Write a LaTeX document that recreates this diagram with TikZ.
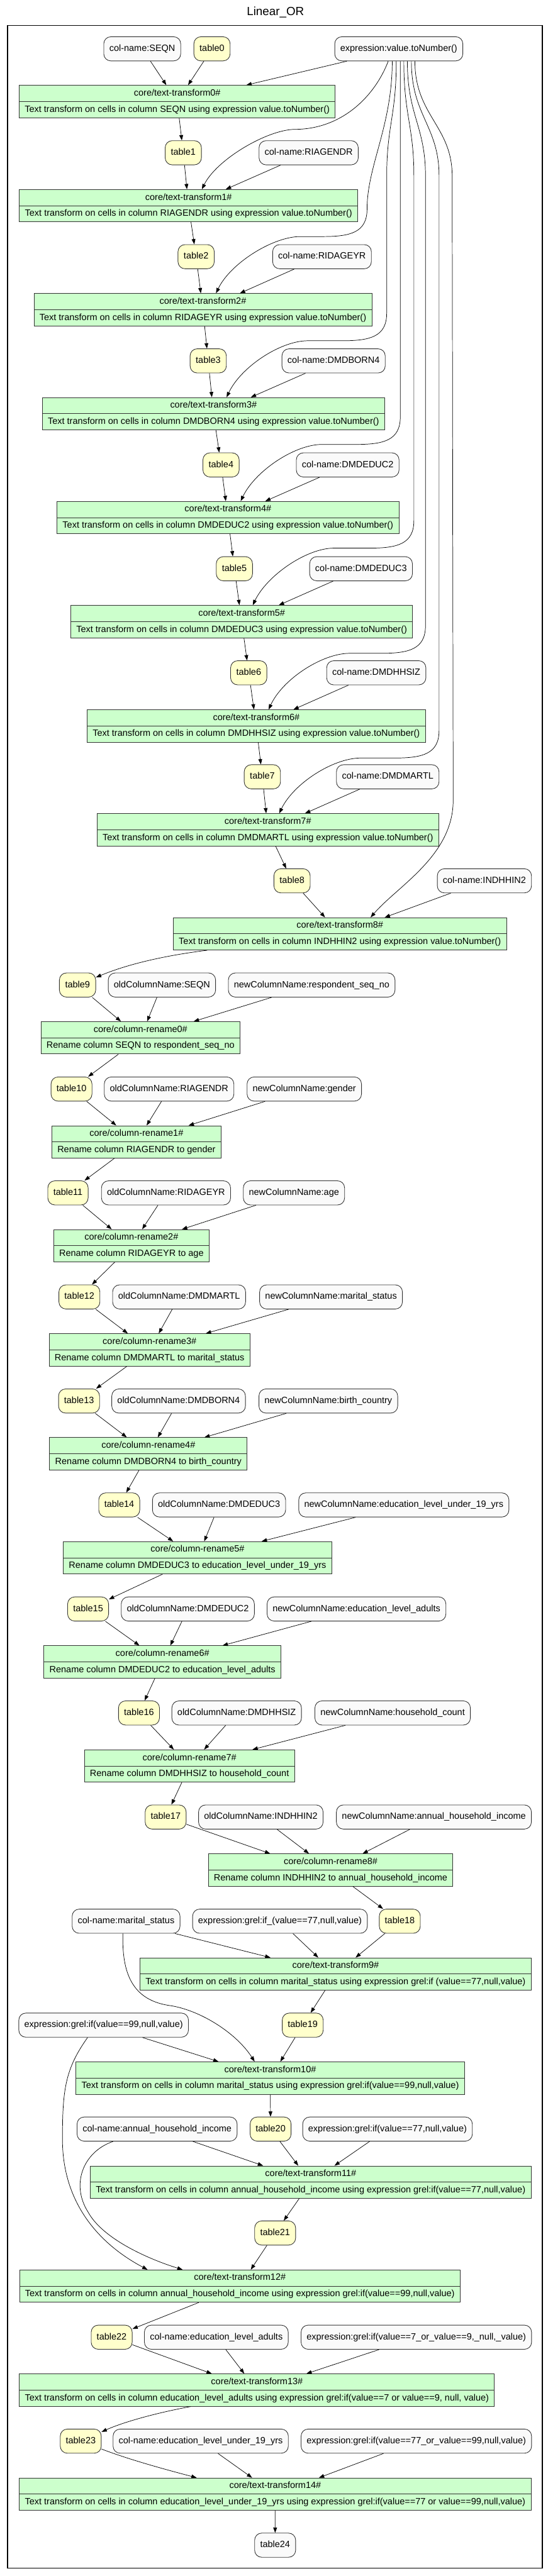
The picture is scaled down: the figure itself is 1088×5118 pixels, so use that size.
\documentclass[tikz,border=0pt]{standalone}
\usepackage{fontspec}
\setmainfont{Liberation Sans}
\usetikzlibrary{arrows.meta,shapes.multipart}
\definecolor{tblyellow}{HTML}{FFFFCC}
\definecolor{prmgrey}{HTML}{FAFAFA}
\definecolor{opgreen}{HTML}{CCFFCC}
\definecolor{bordergrey}{HTML}{333333}
\newcommand{\pstrut}{\rule[-4pt]{0pt}{17.5pt}}
\begin{document}
\begin{tikzpicture}[x=1pt,y=-1pt,
  base/.style={font=\fontsize{18.1}{21}\selectfont},
  prm/.style={base, draw=bordergrey, line width=1.1pt, fill=prmgrey, rounded corners=14pt, minimum height=48pt, inner xsep=11pt, inner ysep=0pt},
  tbl/.style={prm, fill=tblyellow, minimum width=72pt},
  op/.style={base, draw=bordergrey, line width=1.1pt, fill=opgreen, rectangle split, rectangle split parts=2, inner xsep=11pt, inner ysep=6.75pt, anchor=north},
  edge/.style={line width=0.9pt, -{Triangle[length=10.5pt,width=7.5pt]}},
]
\useasboundingbox (0,0) rectangle (1088,5118);
\fill[white] (0,0) rectangle (1088,5118);
\node[font=\fontsize{23.5}{28}\selectfont] (title) at (547,25) {Linear\_OR};
\draw[line width=1.5pt] (15,51) rectangle (1077,5102);

% ---------- text transforms 0-8
\node[prm] (seqn) at (282.5,97) {\pstrut col-name:SEQN};
\node[tbl] (t0) at (421,97) {\pstrut table0};
\node[prm] (expr) at (792,97) {\pstrut expression:value.toNumber()};
\node[op] (tt0) at (352,169) {\pstrut core/text-transform0\#\nodepart{two}\pstrut Text transform on cells in column SEQN using expression value.toNumber()};

\node[tbl] (t1) at (364,303.5) {\pstrut table1};
\node[prm] (c1) at (613,303.5) {\pstrut col-name:RIAGENDR};
\node[op] (tt1) at (374.5,376) {\pstrut core/text-transform1\#\nodepart{two}\pstrut Text transform on cells in column RIAGENDR using expression value.toNumber()};

\node[tbl] (t2) at (389.5,510) {\pstrut table2};
\node[prm] (c2) at (639.5,510) {\pstrut col-name:RIDAGEYR};
\node[op] (tt2) at (403,582.7) {\pstrut core/text-transform2\#\nodepart{two}\pstrut Text transform on cells in column RIDAGEYR using expression value.toNumber()};

\node[tbl] (t3) at (413.5,717) {\pstrut table3};
\node[prm] (c3) at (662.5,717) {\pstrut col-name:DMDBORN4};
\node[op] (tt3) at (424,789.3) {\pstrut core/text-transform3\#\nodepart{two}\pstrut Text transform on cells in column DMDBORN4 using expression value.toNumber()};

\node[tbl] (t4) at (439,923.7) {\pstrut table4};
\node[prm] (c4) at (690.5,923.7) {\pstrut col-name:DMDEDUC2};
\node[op] (tt4) at (452.7,995.7) {\pstrut core/text-transform4\#\nodepart{two}\pstrut Text transform on cells in column DMDEDUC2 using expression value.toNumber()};

\node[tbl] (t5) at (465.5,1130) {\pstrut table5};
\node[prm] (c5) at (717,1130) {\pstrut col-name:DMDEDUC3};
\node[op] (tt5) at (480,1202.3) {\pstrut core/text-transform5\#\nodepart{two}\pstrut Text transform on cells in column DMDEDUC3 using expression value.toNumber()};

\node[tbl] (t6) at (494,1336.7) {\pstrut table6};
\node[prm] (c6) at (747.3,1336.7) {\pstrut col-name:DMDHHSIZ};
\node[op] (tt6) at (509,1409.7) {\pstrut core/text-transform6\#\nodepart{two}\pstrut Text transform on cells in column DMDHHSIZ using expression value.toNumber()};

\node[tbl] (t7) at (521,1543.3) {\pstrut table7};
\node[prm] (c7) at (770,1543.3) {\pstrut col-name:DMDMARTL};
\node[op] (tt7) at (532,1616) {\pstrut core/text-transform7\#\nodepart{two}\pstrut Text transform on cells in column DMDMARTL using expression value.toNumber()};

\node[tbl] (t8) at (580,1750) {\pstrut table8};
\node[prm] (c8) at (962,1750) {\pstrut col-name:INDHHIN2};
\node[op] (tt8) at (675,1822.7) {\pstrut core/text-transform8\#\nodepart{two}\pstrut Text transform on cells in column INDHHIN2 using expression value.toNumber()};

% ---------- renames
\node[tbl] (t9) at (154,1957) {\pstrut table9};
\node[prm] (o0) at (321.6,1957) {\pstrut oldColumnName:SEQN};
\node[prm] (n0) at (619,1957) {\pstrut newColumnName:respondent\_seq\_no};
\node[op] (cr0) at (279,2029.3) {\pstrut core/column-rename0\#\nodepart{two}\pstrut Rename column SEQN to respondent\_seq\_no};

\node[tbl] (t10) at (142,2163.7) {\pstrut table10};
\node[prm] (o1) at (335.8,2163.7) {\pstrut oldColumnName:RIAGENDR};
\node[prm] (n1) at (604.3,2163.7) {\pstrut newColumnName:gender};
\node[op] (cr1) at (271,2236) {\pstrut core/column-rename1\#\nodepart{two}\pstrut Rename column RIAGENDR to gender};

\node[tbl] (t11) at (135,2370) {\pstrut table11};
\node[prm] (o2) at (329.7,2370) {\pstrut oldColumnName:RIDAGEYR};
\node[prm] (n2) at (583.8,2370) {\pstrut newColumnName:age};
\node[op] (cr2) at (261,2442.3) {\pstrut core/column-rename2\#\nodepart{two}\pstrut Rename column RIDAGEYR to age};

\node[tbl] (t12) at (157.7,2576.7) {\pstrut table12};
\node[prm] (o3) at (355.7,2576.7) {\pstrut oldColumnName:DMDMARTL};
\node[prm] (n3) at (657.4,2576.7) {\pstrut newColumnName:marital\_status};
\node[op] (cr3) at (297,2649.3) {\pstrut core/column-rename3\#\nodepart{two}\pstrut Rename column DMDMARTL to marital\_status};

\node[tbl] (t13) at (157,2783.5) {\pstrut table13};
\node[prm] (o4) at (354.7,2783.5) {\pstrut oldColumnName:DMDBORN4};
\node[prm] (n4) at (652,2783.5) {\pstrut newColumnName:birth\_country};
\node[op] (cr4) at (294.7,2855.7) {\pstrut core/column-rename4\#\nodepart{two}\pstrut Rename column DMDBORN4 to birth\_country};

\node[tbl] (t14) at (236.8,2990) {\pstrut table14};
\node[prm] (o5) at (435,2990) {\pstrut oldColumnName:DMDEDUC3};
\node[prm] (n5) at (802,2990) {\pstrut newColumnName:education\_level\_under\_19\_yrs};
\node[op] (cr5) at (392.3,3062.3) {\pstrut core/column-rename5\#\nodepart{two}\pstrut Rename column DMDEDUC3 to education\_level\_under\_19\_yrs};

\node[tbl] (t15) at (175,3196.7) {\pstrut table15};
\node[prm] (o6) at (373,3196.7) {\pstrut oldColumnName:DMDEDUC2};
\node[prm] (n6) at (708,3196.7) {\pstrut newColumnName:education\_level\_adults};
\node[op] (cr6) at (322.6,3269.3) {\pstrut core/column-rename6\#\nodepart{two}\pstrut Rename column DMDEDUC2 to education\_level\_adults};

\node[tbl] (t16) at (276,3403.3) {\pstrut table16};
\node[prm] (o7) at (470,3403.3) {\pstrut oldColumnName:DMDHHSIZ};
\node[prm] (n7) at (779.8,3403.3) {\pstrut newColumnName:household\_count};
\node[op] (cr7) at (376.3,3476) {\pstrut core/column-rename7\#\nodepart{two}\pstrut Rename column DMDHHSIZ to household\_count};

\node[tbl] (t17) at (329,3610) {\pstrut table17};
\node[prm] (o8) at (518,3610) {\pstrut oldColumnName:INDHHIN2};
\node[prm] (n8) at (861.7,3610) {\pstrut newColumnName:annual\_household\_income};
\node[op] (cr8) at (656.6,3682.7) {\pstrut core/column-rename8\#\nodepart{two}\pstrut Rename column INDHHIN2 to annual\_household\_income};

% ---------- grel transforms
\node[prm] (cms) at (250.4,3817) {\pstrut col-name:marital\_status};
\node[prm] (e77) at (556,3817) {\pstrut expression:grel:if\_(value==77,null,value)};
\node[tbl] (t18) at (794,3817) {\pstrut table18};
\node[op] (tt9) at (666.5,3889.3) {\pstrut core/text-transform9\#\nodepart{two}\pstrut Text transform on cells in column marital\_status using expression grel:if (value==77,null,value)};

\node[prm] (e99) at (205.8,4023.5) {\pstrut expression:grel:if(value==99,null,value)};
\node[tbl] (t19) at (601.2,4023.5) {\pstrut table19};
\node[op] (tt10) at (536.7,4096) {\pstrut core/text-transform10\#\nodepart{two}\pstrut Text transform on cells in column marital\_status using expression grel:if(value==99,null,value)};

\node[prm] (cahi) at (312,4230) {\pstrut col-name:annual\_household\_income};
\node[tbl] (t20) at (537.4,4230) {\pstrut table20};
\node[prm] (e77b) at (769.6,4230) {\pstrut expression:grel:if(value==77,null,value)};
\node[op] (tt11) at (617,4302.7) {\pstrut core/text-transform11\#\nodepart{two}\pstrut Text transform on cells in column annual\_household\_income using expression grel:if(value==77,null,value)};

\node[tbl] (t21) at (546.4,4436.5) {\pstrut table21};
\node[op] (tt12) at (476.4,4509.3) {\pstrut core/text-transform12\#\nodepart{two}\pstrut Text transform on cells in column annual\_household\_income using expression grel:if(value==99,null,value)};

\node[tbl] (t22) at (221.8,4643.5) {\pstrut table22};
\node[prm] (cela) at (429.6,4643.5) {\pstrut col-name:education\_level\_adults};
\node[prm] (e79) at (826.8,4643.5) {\pstrut expression:grel:if(value==7\_or\_value==9,\_null,\_value)};
\node[op] (tt13) at (510.2,4716) {\pstrut core/text-transform13\#\nodepart{two}\pstrut Text transform on cells in column education\_level\_adults using expression grel:if(value==7 or value==9, null, value)};

\node[tbl] (t23) at (160.4,4850) {\pstrut table23};
\node[prm] (celu) at (398.6,4850) {\pstrut col-name:education\_level\_under\_19\_yrs};
\node[prm] (e7799) at (826.8,4850) {\pstrut expression:grel:if(value==77\_or\_value==99,null,value)};
\node[op] (tt14) at (546.5,4922.7) {\pstrut core/text-transform14\#\nodepart{two}\pstrut Text transform on cells in column education\_level\_under\_19\_yrs using expression grel:if(value==77 or value==99,null,value)};

\node[prm] (t24) at (546.4,5056.7) {\pstrut table24};

% ---------- edges: first block
\draw[edge] (seqn) -- (tt0);
\draw[edge] (t0) -- (tt0);
\draw[edge] (expr) -- (tt0);
\draw[edge] (tt0) -- (t1);
\draw[edge] (t1) -- (tt1);
\draw[edge] (c1) -- (tt1);
\draw[edge] (tt1) -- (t2);
\draw[edge] (t2) -- (tt2);
\draw[edge] (c2) -- (tt2);
\draw[edge] (tt2) -- (t3);
\draw[edge] (t3) -- (tt3);
\draw[edge] (c3) -- (tt3);
\draw[edge] (tt3) -- (t4);
\draw[edge] (t4) -- (tt4);
\draw[edge] (c4) -- (tt4);
\draw[edge] (tt4) -- (t5);
\draw[edge] (t5) -- (tt5);
\draw[edge] (c5) -- (tt5);
\draw[edge] (tt5) -- (t6);
\draw[edge] (t6) -- (tt6);
\draw[edge] (c6) -- (tt6);
\draw[edge] (tt6) -- (t7);
\draw[edge] (t7) -- (tt7);
\draw[edge] (c7) -- (tt7);
\draw[edge] (tt7) -- (t8);
\draw[edge] (t8) -- (tt8);
\draw[edge] (c8) -- (tt8);

% expression fan-out
\draw[edge] ([xshift=-21pt]expr.south) .. controls (745,190) and (680,257) .. (585,257)
  .. controls (530,258) and (430,317) .. ([xshift=26.5pt]tt1.north);
\draw[edge] ([xshift=-13pt]expr.south) .. controls (779,250) and (729,330) .. (729,415)
  .. controls (729,462) and (696,470) .. (641,470) -- (595,470)
  .. controls (540,471) and (457,524) .. ([xshift=26pt]tt2.north);
\draw[edge] ([xshift=-5pt]expr.south) .. controls (787,230) and (768,250) .. (768,350) -- (768,622)
  .. controls (768,669) and (735,677) .. (680,677) -- (610,677)
  .. controls (555,678) and (478,730) .. ([xshift=26pt]tt3.north);
\draw[edge] ([xshift=3pt]expr.south) -- (795,828)
  .. controls (795,875) and (762,883) .. (707,883) -- (638,883)
  .. controls (583,884) and (506,937) .. ([xshift=25.3pt]tt4.north);
\draw[edge] ([xshift=10pt]expr.south) .. controls (802,230) and (822,250) .. (822,350) -- (822,1034)
  .. controls (822,1081) and (789,1089) .. (734,1089) -- (662,1089)
  .. controls (607,1090) and (530,1144) .. ([xshift=22pt]tt5.north);
\draw[edge] ([xshift=17pt]expr.south) .. controls (809,230) and (845,250) .. (845,350) -- (845,1243)
  .. controls (845,1290) and (812,1298) .. (757,1298) -- (693,1298)
  .. controls (638,1299) and (561,1350) .. ([xshift=24.5pt]tt6.north);
\draw[edge] ([xshift=25pt]expr.south) .. controls (817,230) and (872,250) .. (872,350) -- (872,1451)
  .. controls (872,1498) and (839,1506) .. (784,1506) -- (715,1506)
  .. controls (660,1507) and (583,1557) .. ([xshift=22.5pt]tt7.north);
\draw[edge] ([xshift=32pt]expr.south) .. controls (824,230) and (898,250) .. (898,350) -- (900,1590)
  .. controls (900,1700) and (790,1760) .. ([xshift=61pt]tt8.north);

% ---------- edges: renames
\draw[edge] ([xshift=-263.5pt]tt8.south) .. controls (330,1898) and (255,1915) .. (t9);
\draw[edge] (t9) -- (cr0);
\draw[edge] (o0) -- (cr0);
\draw[edge] (n0) -- (cr0);
\draw[edge] (cr0) -- (t10);
\draw[edge] (t10) -- (cr1);
\draw[edge] (o1) -- (cr1);
\draw[edge] (n1) -- (cr1);
\draw[edge] (cr1) -- (t11);
\draw[edge] (t11) -- (cr2);
\draw[edge] (o2) -- (cr2);
\draw[edge] (n2) -- (cr2);
\draw[edge] (cr2) -- (t12);
\draw[edge] (t12) -- (cr3);
\draw[edge] (o3) -- (cr3);
\draw[edge] (n3) -- (cr3);
\draw[edge] (cr3) -- (t13);
\draw[edge] (t13) -- (cr4);
\draw[edge] (o4) -- (cr4);
\draw[edge] (n4) -- (cr4);
\draw[edge] (cr4) -- (t14);
\draw[edge] (t14) -- (cr5);
\draw[edge] (o5) -- (cr5);
\draw[edge] (n5) -- (cr5);
\draw[edge] (cr5) -- (t15);
\draw[edge] (t15) -- (cr6);
\draw[edge] (o6) -- (cr6);
\draw[edge] (n6) -- (cr6);
\draw[edge] (cr6) -- (t16);
\draw[edge] (t16) -- (cr7);
\draw[edge] (o7) -- (cr7);
\draw[edge] (n7) -- (cr7);
\draw[edge] (cr7) -- (t17);
\draw[edge] (t17) -- ([xshift=-120pt]cr8.north);
\draw[edge] (o8) -- (cr8);
\draw[edge] (n8) -- (cr8);
\draw[edge] (cr8) -- (t18);

% ---------- edges: grel transforms
\draw[edge] (cms) -- (tt9);
\draw[edge] (e77) -- (tt9);
\draw[edge] (t18) -- (tt9);
\draw[edge] (tt9) -- (t19);
\draw[edge] ([xshift=-6.4pt]cms.south) .. controls (242,3920) and (262,3975) .. (340,3985)
  .. controls (400,3995) and (470,4040) .. ([xshift=-31pt]tt10.north);
\draw[edge] (e99) -- (tt10);
\draw[edge] (t19) -- (tt10);
\draw[edge] (tt10) -- (t20);
\draw[edge] (cahi) -- (tt11);
\draw[edge] (t20) -- (tt11);
\draw[edge] (e77b) -- (tt11);
\draw[edge] (tt11) -- (t21);
\draw[edge] ([xshift=-31.8pt]e99.south) .. controls (130,4110) and (124,4150) .. (124,4250)
  .. controls (124,4380) and (200,4460) .. ([xshift=-183.4pt]tt12.north);
\draw[edge] ([xshift=-87.4pt]cahi.south) .. controls (165,4275) and (140,4340) .. (175,4395)
  .. controls (205,4450) and (300,4490) .. ([xshift=-113.8pt]tt12.north);
\draw[edge] (t21) -- (tt12);
\draw[edge] (tt12) -- (t22);
\draw[edge] (t22) -- (tt13);
\draw[edge] (cela) -- (tt13);
\draw[edge] (e79) -- (tt13);
\draw[edge] ([xshift=-131.5pt]tt13.south) .. controls (320,4792) and (250,4810) .. (t23);
\draw[edge] (t23) .. controls (260,4888) and (335,4908) .. ([xshift=-156pt]tt14.north);
\draw[edge] (celu) -- (tt14);
\draw[edge] (e7799) -- (tt14);
\draw[edge] (tt14) -- (t24);
\end{tikzpicture}
\end{document}
